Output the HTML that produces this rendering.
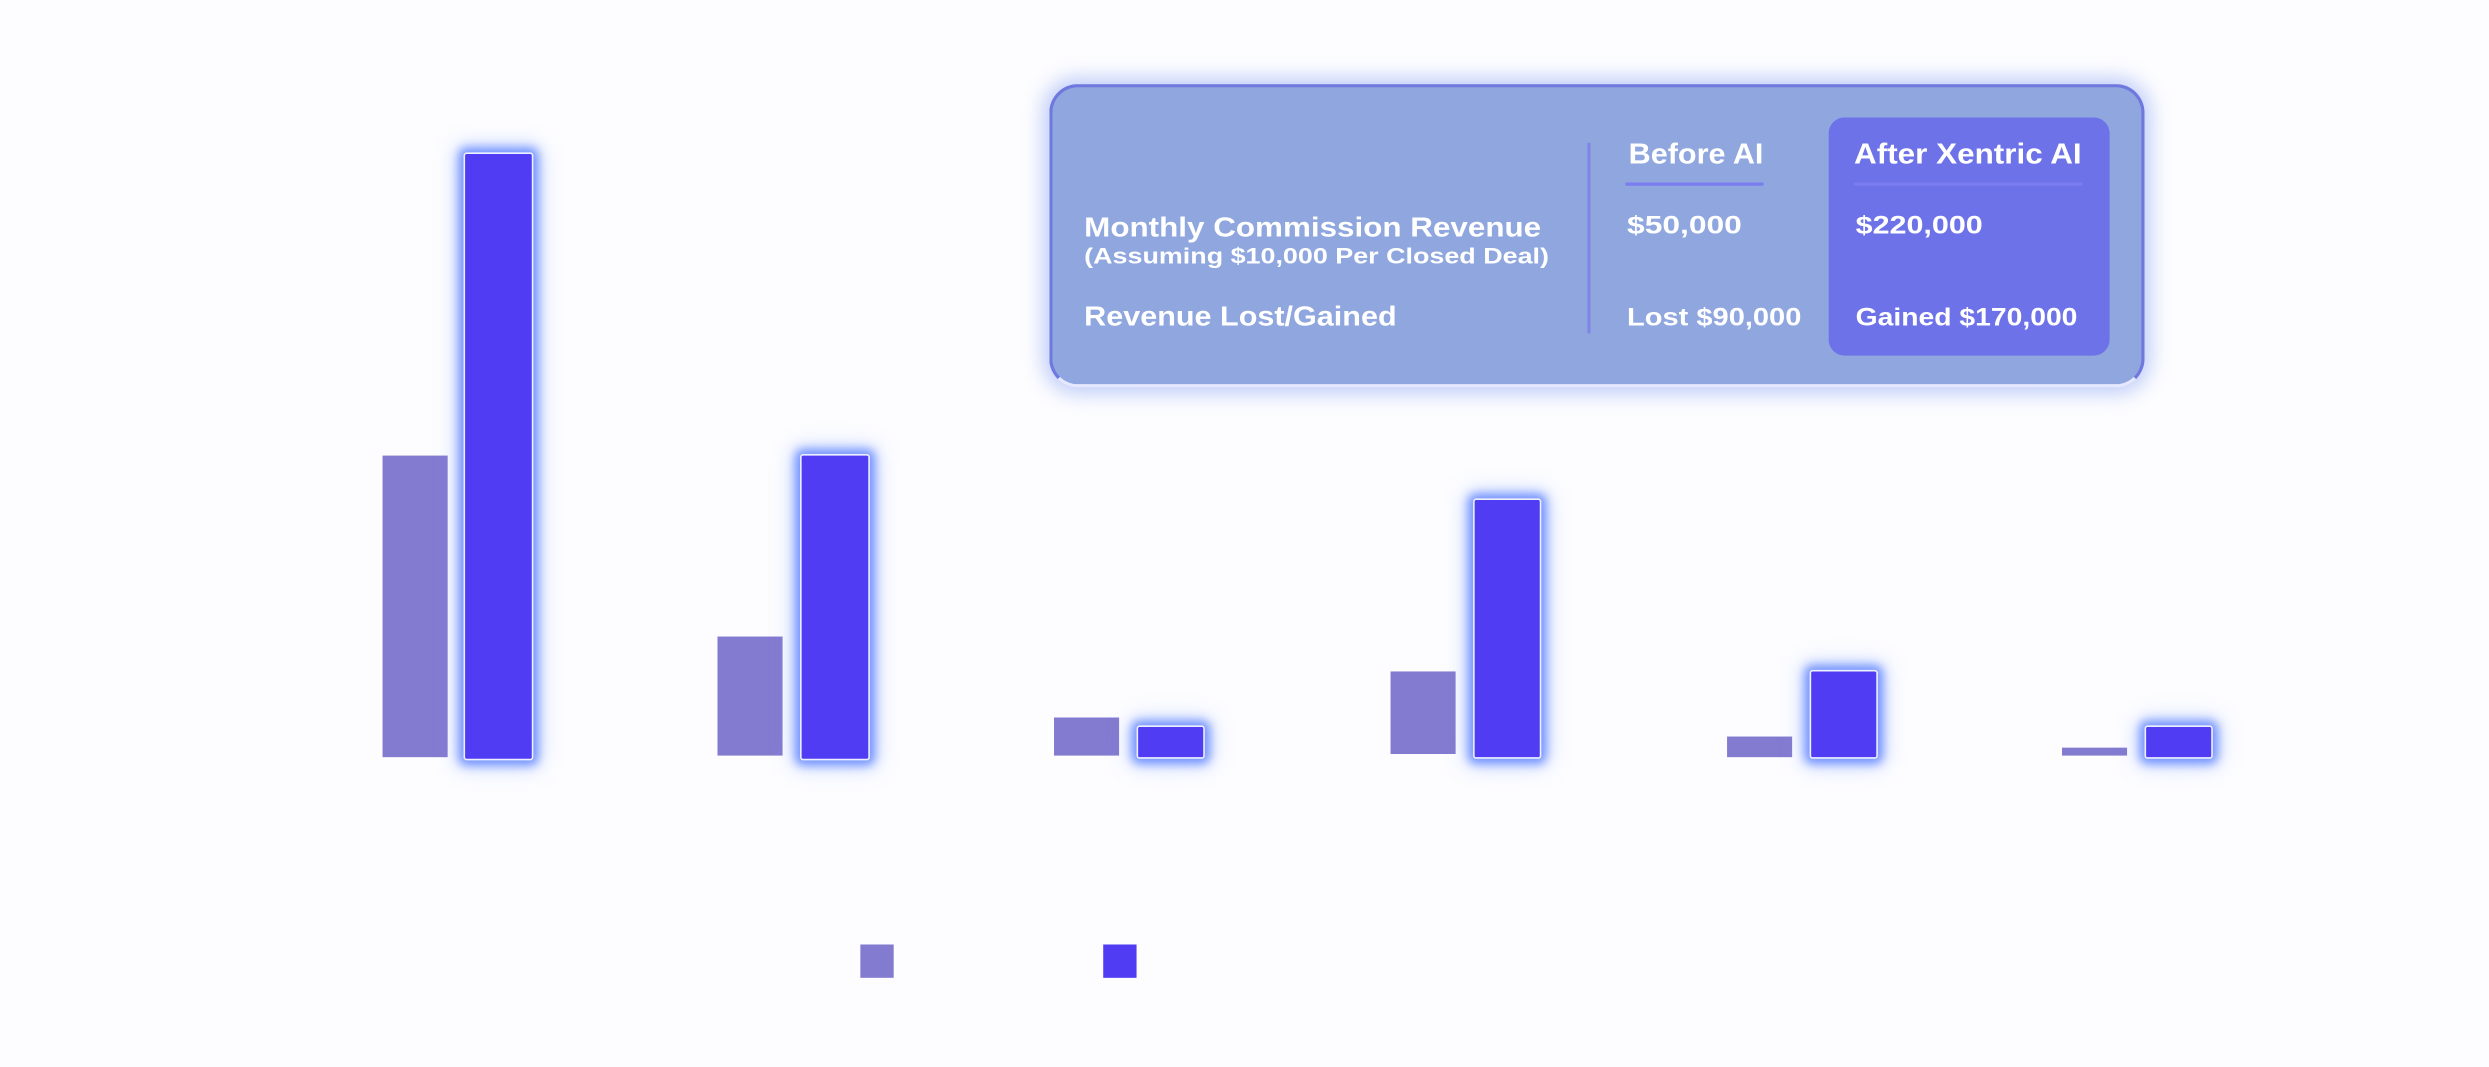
<!DOCTYPE html>
<html><head><meta charset="utf-8"><style>
html,body{margin:0;padding:0;background:#fdfdff;}
body{width:2489px;height:1066px;overflow:hidden;position:relative;}
#w{position:absolute;left:0;top:0;width:1568px;height:672px;transform:scale(1.58737);transform-origin:0 0;font-family:"Liberation Sans",sans-serif;}
.l{position:absolute;background:#837bd0;}
.b{position:absolute;background:#503cf2;border:1.5px solid #eef0ff;box-sizing:border-box;border-radius:2px;box-shadow:0 0 6px 3px rgba(80,120,255,.75),0 0 14px 4px rgba(110,150,255,.35);}
.t{position:absolute;color:#fff;font-weight:bold;white-space:nowrap;line-height:1;transform-origin:0 50%;}
</style></head><body><div id="w">
<div class="l" style="left:241px;top:287px;width:41px;height:190px"></div>
<div class="b" style="left:292px;top:96px;width:44px;height:383px"></div>
<div class="l" style="left:452px;top:401px;width:41px;height:75px"></div>
<div class="b" style="left:504px;top:286px;width:44px;height:193px"></div>
<div class="l" style="left:664px;top:452px;width:41px;height:24px"></div>
<div class="b" style="left:716px;top:457px;width:43px;height:21px"></div>
<div class="l" style="left:876px;top:423px;width:41px;height:52px"></div>
<div class="b" style="left:928px;top:314px;width:43px;height:164px"></div>
<div class="l" style="left:1088px;top:464px;width:41px;height:13px"></div>
<div class="b" style="left:1140px;top:422px;width:43px;height:56px"></div>
<div class="l" style="left:1299px;top:471px;width:41px;height:5px"></div>
<div class="b" style="left:1351px;top:457px;width:43px;height:21px"></div>
<div style="position:absolute;left:542px;top:595px;width:21px;height:21px;background:#837bd0"></div>
<div style="position:absolute;left:695px;top:595px;width:21px;height:21px;background:#503cf2"></div>

<div style="position:absolute;left:661px;top:53px;width:690px;height:191px;box-sizing:border-box;background:#8fa6de;border:2px solid #6f78de;border-bottom-color:#e6e8ff;border-radius:18px;box-shadow:0 0 12px 4px rgba(120,150,240,.45)"></div>
<div style="position:absolute;left:1152px;top:74px;width:177px;height:150px;background:#6e72e8;border-radius:10px"></div>
<div style="position:absolute;left:1000px;top:90px;width:2px;height:120px;background:#7f86e6"></div>
<div style="position:absolute;left:1024px;top:115px;width:87px;height:2px;background:#7a7cf0"></div>
<div style="position:absolute;left:1168px;top:115px;width:144px;height:2px;background:#7a7cf0"></div>
<div class="t" style="left:1026px;top:88px;font-size:18px;transform:scaleX(1.07)">Before AI</div>
<div class="t" style="left:1168px;top:88px;font-size:18px;transform:scaleX(1.1)">After Xentric AI</div>
<div class="t" style="left:683px;top:135px;font-size:17.5px;transform:scaleX(1.13)">Monthly Commission Revenue</div>
<div class="t" style="left:683px;top:154px;font-size:14px;transform:scaleX(1.21)">(Assuming $10,000 Per Closed Deal)</div>
<div class="t" style="left:683px;top:191px;font-size:17.5px;transform:scaleX(1.1)">Revenue Lost/Gained</div>
<div class="t" style="left:1025px;top:135px;font-size:16px;transform:scaleX(1.25)">$50,000</div>
<div class="t" style="left:1169px;top:135px;font-size:16px;transform:scaleX(1.2)">$220,000</div>
<div class="t" style="left:1025px;top:193px;font-size:15.5px;transform:scaleX(1.18)">Lost $90,000</div>
<div class="t" style="left:1169px;top:193px;font-size:15.5px;transform:scaleX(1.15)">Gained $170,000</div>
</div></body></html>
